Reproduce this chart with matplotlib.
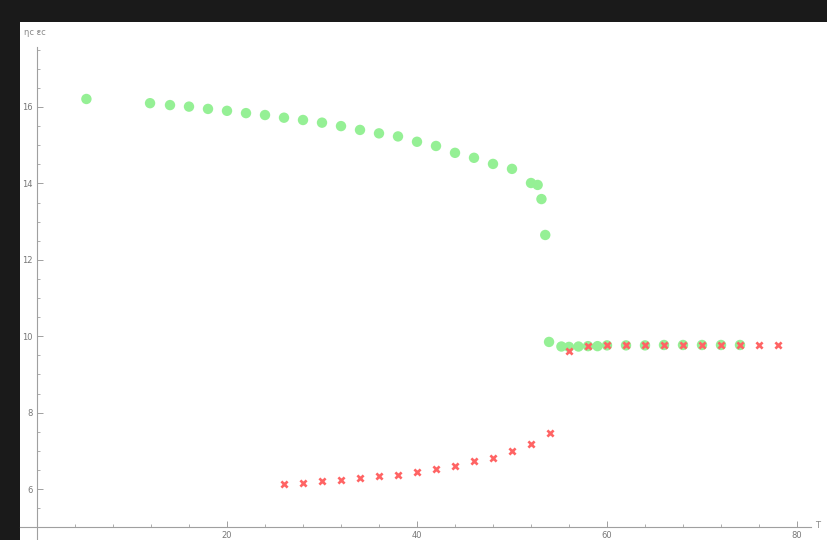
import matplotlib
matplotlib.use("Agg")
import matplotlib.pyplot as plt
from matplotlib.ticker import MultipleLocator, FixedLocator

# Green series (circles)
green_x = [5.2, 11.9, 14, 16, 18, 20, 22, 24, 26, 28, 30, 32, 34, 36, 38, 40, 42, 44,
           46, 48, 50, 52, 52.7, 53.1, 53.5, 53.9, 55.2, 56, 57, 58, 59, 60, 62, 64,
           66, 68, 70, 72, 74]
green_y = [16.21, 16.10, 16.05, 16.01, 15.95, 15.90, 15.84, 15.79, 15.72, 15.66, 15.59,
           15.50, 15.40, 15.31, 15.23, 15.09, 14.98, 14.80, 14.67, 14.51, 14.38, 14.01,
           13.96, 13.59, 12.65, 9.85, 9.73, 9.72, 9.73, 9.74, 9.74, 9.76, 9.76, 9.76,
           9.77, 9.77, 9.77, 9.77, 9.77]

# Red series (crosses)
red_x = [26, 28, 30, 32, 34, 36, 38, 40, 42, 44, 46, 48, 50, 52, 54, 56, 58, 60, 62,
         64, 66, 68, 70, 72, 74, 76, 78]
red_y = [6.13, 6.16, 6.21, 6.23, 6.29, 6.34, 6.37, 6.44, 6.52, 6.60, 6.73, 6.81, 6.99,
         7.17, 7.46, 9.62, 9.74, 9.76, 9.76, 9.76, 9.77, 9.77, 9.77, 9.77, 9.77, 9.78,
         9.78]

x_major = [20, 40, 60, 80]
y_major = [6, 8, 10, 12, 14, 16]

W, H = 827, 540
fig = plt.figure(figsize=(W / 100, H / 100), dpi=100, facecolor="#1a1a1a")

left_px, top_px = 20, 22
ax = fig.add_axes([left_px / W, 0, (W - left_px) / W, (H - top_px) / H])
ax.set_facecolor("white")

sx, x0 = 9.5, 37
sy, y16 = 38.2, 107
ax.set_xlim((left_px - x0) / sx, (W - x0) / sx)
ax.set_ylim(16 - (H - y16) / sy, 16 + (y16 - top_px) / sy)

ax.scatter(green_x, green_y, s=56, color="#95f095", edgecolors="none", zorder=3)
ax.scatter(red_x, red_y, s=20, marker="x", color="#ff6464", linewidths=1.9, zorder=4)

axcol = "#a0a0a0"
for s in ["top", "right"]:
    ax.spines[s].set_visible(False)
ax.spines["left"].set_position(("data", 0))
ax.spines["bottom"].set_position(("data", 5))
ax.spines["left"].set_color(axcol)
ax.spines["bottom"].set_color(axcol)
ax.spines["left"].set_bounds(ax.get_ylim()[0], 17.57)
ax.spines["bottom"].set_bounds(ax.get_xlim()[0], 81.5)
ax.spines["left"].set_linewidth(0.8)
ax.spines["bottom"].set_linewidth(0.8)

ax.xaxis.set_major_locator(FixedLocator(x_major))
ax.xaxis.set_minor_locator(MultipleLocator(4))
ax.yaxis.set_major_locator(FixedLocator(y_major))
ax.yaxis.set_minor_locator(MultipleLocator(0.5))
ax.tick_params(axis="both", which="both", direction="in", colors=axcol,
               labelcolor="#777777", labelsize=6)
ax.tick_params(axis="both", which="major", length=4, width=0.7, pad=3)
ax.tick_params(axis="both", which="minor", length=2.5, width=0.6)

ax.text(-1.4, 17.95, "ηc εc", fontsize=6, color="#888888", ha="left", va="center")
ax.text(81.9, 5.05, "T", fontsize=6, color="#888888", ha="left", va="center")

fig.savefig("out.png", dpi=100, facecolor=fig.get_facecolor())
